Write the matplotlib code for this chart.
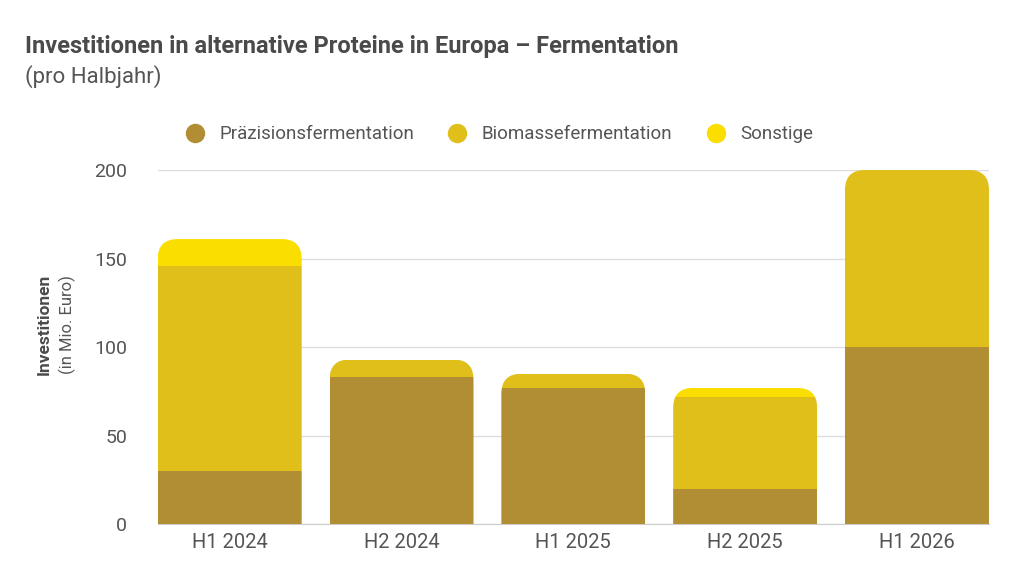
import matplotlib
matplotlib.use("Agg")
import matplotlib.pyplot as plt
import matplotlib.patches as mpatches
from matplotlib.lines import Line2D
import numpy as np

plt.rcParams.update({"font.family": ["Roboto", "DejaVu Sans"]})

periods = ["H1 2024", "H2 2024", "H1 2025", "H2 2025", "H1 2026"]
praezision = [30, 83, 77, 20, 100]
biomasse = [116, 10, 8, 52, 100]
sonstige = [15, 0, 0, 5, 0]
series_names = ["Präzisionsfermentation", "Biomassefermentation", "Sonstige"]
colors = ["#B18E33", "#E1BF1B", "#FADE00"]
yticks = [0, 50, 100, 150, 200]

TXT = "#4a4a4a"
fig = plt.figure(figsize=(10.24, 5.76), dpi=100)
ax = fig.add_axes([0.154, 0.0898, 0.8118, 0.6151])

x = np.arange(len(periods))
w = 0.838
data = [praezision, biomasse, sonstige]
bottom = np.zeros(len(periods))
containers = []
for vals, c in zip(data, colors):
    bc = ax.bar(x, vals, w, bottom=bottom, color=c, linewidth=0, zorder=3)
    containers.append(bc)
    bottom += np.array(vals)
totals = bottom

ax.set_xlim(-0.5 * w, len(periods) - 1 + 0.5 * w)
ax.set_ylim(0, 200)

# rounded tops via clip path (radius ~20px)
fig.canvas.draw()
px_x = ax.transData.transform((1, 0))[0] - ax.transData.transform((0, 0))[0]
px_y = ax.transData.transform((0, 1))[1] - ax.transData.transform((0, 0))[1]
r = 20 / px_x
aspect = px_x / px_y
for i in range(len(periods)):
    clip = mpatches.FancyBboxPatch((x[i] - w / 2, -40), w, totals[i] + 40,
                                   boxstyle=f"round,pad=0,rounding_size={r}",
                                   mutation_aspect=aspect, transform=ax.transData,
                                   facecolor="none", edgecolor="none")
    for bc in containers:
        bc[i].set_clip_path(clip)

ax.set_yticks(yticks)
ax.grid(axis="y", color="#dddddd", linewidth=1, zorder=0)
for s in ["top", "right", "left"]:
    ax.spines[s].set_visible(False)
ax.spines["bottom"].set_color("#cccccc")
ax.tick_params(axis="both", length=0, labelcolor="#555555")
ax.tick_params(axis="y", pad=22, labelsize=14)
ax.tick_params(axis="x", pad=6, labelsize=14.5)
ax.set_xticks(x, periods)

fig.text(0.043, 0.436, "Investitionen", rotation=90, ha="center", va="center",
         fontsize=12.5, fontweight="bold", color=TXT)
fig.text(0.066, 0.436, "(in Mio. Euro)", rotation=90, ha="center", va="center",
         fontsize=12, color="#555555")

fig.text(0.024, 0.92, "Investitionen in alternative Proteine in Europa – Fermentation",
         fontsize=17, fontweight="bold", color=TXT, va="center")
fig.text(0.024, 0.868, "(pro Halbjahr)", fontsize=16, color="#555555", va="center")

handles = [Line2D([], [], marker="o", linestyle="none", markersize=14,
                  markerfacecolor=c, markeredgecolor="none") for c in colors]
fig.legend(handles, series_names, loc="center", bbox_to_anchor=(0.483, 0.767),
           ncol=3, frameon=False, fontsize=13.5, labelcolor="#555555",
           handletextpad=0.3, columnspacing=1.3)

fig.savefig("out.png", dpi=100)
